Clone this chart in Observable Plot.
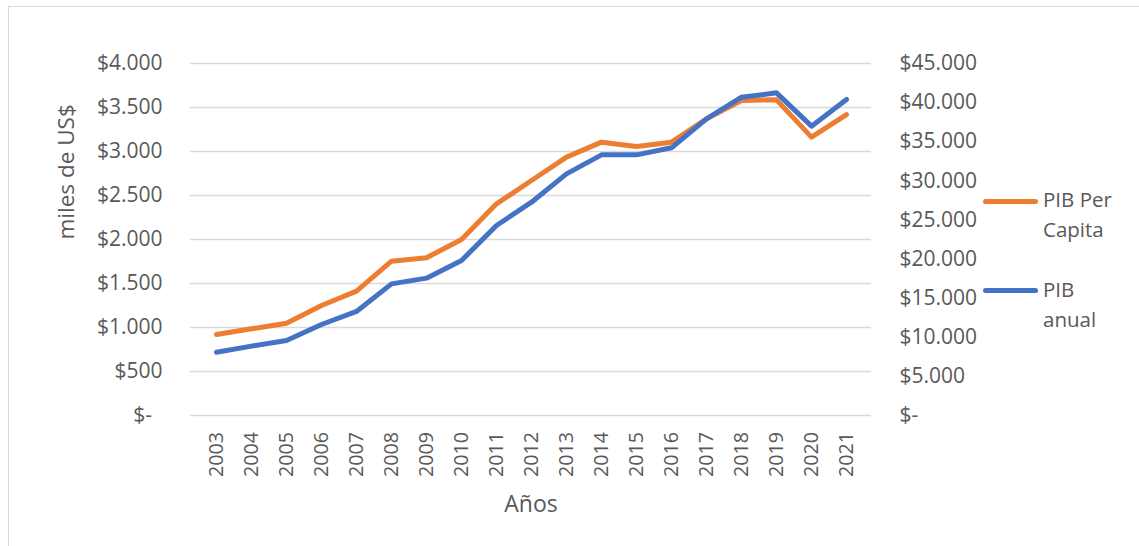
<!DOCTYPE html>
<html>
<head>
<meta charset="utf-8">
<script src="https://cdn.jsdelivr.net/npm/d3@7"></script>
<script src="https://cdn.jsdelivr.net/npm/@observablehq/plot@0.6"></script>
<style>
  html, body { margin: 0; padding: 0; background: #fff; }
  #wrap { position: relative; width: 1139px; height: 546px; overflow: hidden; font-family: "Open Sans", sans-serif; color: #595959; }
  #chart { position: absolute; left: 0; top: 0; }
  #border { position: absolute; left: 8px; top: 6px; width: 1300px; height: 700px; border-left: 1.5px solid #D9D9D9; border-top: 1.5px solid #D9D9D9; pointer-events: none; }
  .sw { position: absolute; left: 983px; width: 55px; height: 5px; border-radius: 2.5px; }
  .lt { position: absolute; left: 1043px; font-size: 20.5px; line-height: 29.5px; white-space: nowrap; }
</style>
</head>
<body>
<div id="wrap">
  <div id="chart"></div>
  <div id="legend"></div>
  <div id="border"></div>
</div>
<script>
// ---- data ----
const years = ["2003","2004","2005","2006","2007","2008","2009","2010","2011","2012","2013","2014","2015","2016","2017","2018","2019","2020","2021"];
const pibPerCapita = [920, 985, 1049, 1250, 1413, 1754, 1792, 2000, 2405, 2670, 2936, 3106, 3057, 3106, 3371, 3580, 3587, 3163, 3420];
const pibAnual = [8090, 8870, 9590, 11630, 13300, 16830, 17560, 19810, 24290, 27270, 30890, 33320, 33320, 34220, 37920, 40690, 41250, 36990, 40400];
const leftTicks = [0, 500, 1000, 1500, 2000, 2500, 3000, 3500, 4000];
const rightTicks = [0, 5000, 10000, 15000, 20000, 25000, 30000, 35000, 40000, 45000];
const seriesNames = ["PIB Per Capita", "PIB anual"];
const seriesLegendLines = [["PIB Per", "Capita"], ["PIB", "anual"]];
const seriesColors = ["#ED7D31", "#4472C4"];
const yTitle = "miles de US$";
const xTitle = "Años";

// ---- build ----
const factor = d3.max(rightTicks) / d3.max(leftTicks);
const table = years.map((y, i) => ({year: y, perCapita: pibPerCapita[i], anual: pibAnual[i]}));
const money = v => v === 0 ? "$-" : "$" + d3.format(",")(v).replace(/,/g, ".");

const chart = Plot.plot({
  width: 1139,
  height: 546,
  marginLeft: 190,
  marginRight: 268,
  marginTop: 63,
  marginBottom: 131,
  style: {fontFamily: "Open Sans, sans-serif", color: "#595959", background: "transparent"},
  x: {type: "point", domain: years, padding: 0.5, align: 0.5},
  y: {domain: [0, d3.max(leftTicks)]},
  marks: [
    Plot.ruleY(leftTicks, {stroke: "#D9D9D9", strokeWidth: 1.5}),
    Plot.axisY(leftTicks, {anchor: "left", tickSize: 0, tickPadding: 28, fontSize: 21, label: null,
      tickFormat: v => v === 0 ? "$-\u2002" : money(v)}),
    Plot.axisY(rightTicks.map(v => v / factor), {anchor: "right", tickSize: 0, tickPadding: 28, fontSize: 21, label: null,
      textAnchor: "start", tickFormat: v => money(Math.round(v * factor))}),
    Plot.axisX({tickSize: 0, tickPadding: 16.5, tickRotate: -90, fontSize: 19.7, label: null}),
    Plot.text([yTitle], {frameAnchor: "left", dx: -124, rotate: -90, fontSize: 22.5, lineAnchor: "middle"}),
    Plot.text([xTitle], {frameAnchor: "bottom", dy: 89.6, fontSize: 23, lineAnchor: "middle"}),
    Plot.line(table, {x: "year", y: "perCapita", stroke: seriesColors[0], strokeWidth: 5, strokeLinejoin: "round", strokeLinecap: "round"}),
    Plot.line(table, {x: "year", y: d => d.anual / factor, stroke: seriesColors[1], strokeWidth: 5, strokeLinejoin: "round", strokeLinecap: "round"})
  ]
});
document.getElementById("chart").appendChild(chart);

// legend
const legend = document.getElementById("legend");
const swatchTops = [199.2, 287.5];
const textTops = [185, 275];
seriesNames.forEach((name, i) => {
  const sw = document.createElement("div");
  sw.className = "sw";
  sw.style.top = swatchTops[i] + "px";
  sw.style.background = seriesColors[i];
  sw.title = name;
  legend.appendChild(sw);
  const t = document.createElement("div");
  t.className = "lt";
  t.style.top = textTops[i] + "px";
  t.innerHTML = seriesLegendLines[i].join("<br>");
  legend.appendChild(t);
});
</script>
</body>
</html>
